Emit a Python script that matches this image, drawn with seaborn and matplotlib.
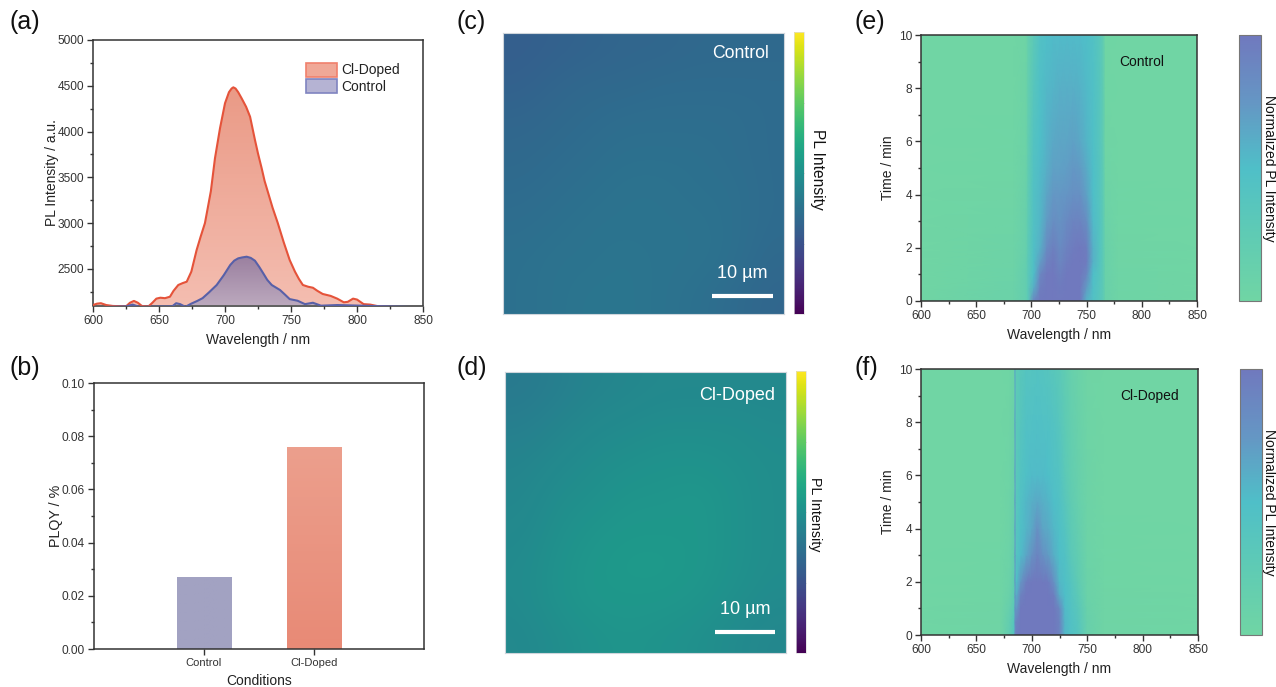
import numpy as np
import pandas as pd
import matplotlib
matplotlib.use('Agg')
import matplotlib.pyplot as plt
from matplotlib.colors import LinearSegmentedColormap, to_rgb
from matplotlib.cm import ScalarMappable
from matplotlib.patches import Patch
from matplotlib.ticker import MultipleLocator
import seaborn as sns

# (a) PL spectra
wl_doped = [600, 603, 606, 610, 615, 625, 628, 631, 634, 637, 642, 645, 648, 651, 654.5, 658.3, 661, 664.6, 668, 671,
            674.5, 678.5, 681.5, 684.8, 687, 689.3, 692.4, 696.2, 700, 703, 705, 706.3, 708, 710, 712.6, 716, 719, 722.7, 725, 727.8,
            730, 732.8, 736, 740, 744.5, 749, 753, 756, 759, 763, 766.6, 770, 774, 780, 785, 790, 793, 797, 800, 805,
            810, 815, 820, 850]
pl_doped = [2105, 2120, 2125, 2105, 2095, 2090, 2130, 2150, 2130, 2095, 2090, 2130, 2175, 2185, 2180, 2196, 2260, 2324, 2345, 2360,
            2470, 2706, 2850, 3000, 3170, 3350, 3708, 4035, 4309, 4430, 4470, 4483, 4470, 4430, 4363, 4270, 4162, 3908, 3760, 3598,
            3460, 3325, 3170, 3000, 2790, 2597, 2470, 2390, 2324, 2305, 2294, 2260, 2226, 2205, 2175, 2135, 2140, 2175, 2165, 2115,
            2110, 2095, 2085, 2080]
wl_control = [600, 625, 630, 635, 660, 663, 666, 670, 674.4, 679, 683, 688, 693.7, 699, 704, 707, 710, 713, 716.4, 719.5,
              722.7, 726, 729, 732, 735.4, 741.7, 745, 749, 755, 760.6, 766.6, 772.7, 785, 850]
pl_control = [2080, 2090, 2110, 2085, 2090, 2125, 2115, 2085, 2120, 2150, 2180, 2245, 2324, 2430, 2543, 2590, 2615, 2625, 2633, 2620,
              2589, 2520, 2451, 2380, 2324, 2269, 2225, 2170, 2152, 2115, 2130, 2098, 2105, 2080]

# (b) PLQY
conditions = ['Control', 'Cl-Doped']
plqy = [0.027, 0.076]

# (c)(d) PL maps, viridis fraction on a coarse grid (top row first)
map_control = [
    [0.30, 0.31, 0.32, 0.33, 0.33, 0.34, 0.34, 0.34],
    [0.31, 0.33, 0.34, 0.34, 0.35, 0.35, 0.35, 0.35],
    [0.33, 0.34, 0.35, 0.36, 0.36, 0.36, 0.36, 0.35],
    [0.34, 0.35, 0.36, 0.37, 0.37, 0.37, 0.36, 0.35],
    [0.35, 0.36, 0.37, 0.38, 0.38, 0.37, 0.37, 0.35],
    [0.36, 0.37, 0.38, 0.38, 0.38, 0.38, 0.37, 0.35],
    [0.37, 0.38, 0.38, 0.39, 0.38, 0.38, 0.37, 0.34],
    [0.37, 0.38, 0.39, 0.39, 0.38, 0.37, 0.35, 0.33],
]
map_doped = [
    [0.41, 0.43, 0.45, 0.46, 0.47, 0.47, 0.47, 0.47],
    [0.43, 0.45, 0.47, 0.48, 0.49, 0.49, 0.49, 0.48],
    [0.45, 0.47, 0.49, 0.50, 0.51, 0.51, 0.50, 0.49],
    [0.46, 0.49, 0.50, 0.52, 0.52, 0.53, 0.51, 0.49],
    [0.47, 0.50, 0.52, 0.53, 0.53, 0.53, 0.51, 0.49],
    [0.48, 0.51, 0.53, 0.54, 0.54, 0.53, 0.51, 0.49],
    [0.48, 0.51, 0.53, 0.53, 0.53, 0.52, 0.50, 0.48],
    [0.47, 0.49, 0.51, 0.52, 0.51, 0.50, 0.48, 0.46],
]

# (e)(f) time-resolved PL, normalized
time_min = [0, 0.5, 1, 1.5, 2, 3, 4, 5, 6, 8, 10]
wl_e = [600, 684, 695, 697, 702, 708, 714, 720, 726, 732, 738, 744, 750, 756, 762, 765, 767, 778, 850]
tr_control = [
    [0, 0.08, 0.18, 0.30, 0.88, 1.00, 1.00, 1.00, 1.00, 1.00, 1.00, 1.00, 0.58, 0.45, 0.35, 0.28, 0.10, 0.03, 0],
    [0, 0.08, 0.18, 0.30, 0.60, 0.95, 1.00, 1.00, 0.98, 1.00, 1.00, 1.00, 0.72, 0.47, 0.36, 0.28, 0.10, 0.03, 0],
    [0, 0.06, 0.18, 0.30, 0.50, 0.88, 1.00, 1.00, 0.94, 1.00, 1.00, 1.00, 0.88, 0.50, 0.38, 0.28, 0.10, 0.03, 0],
    [0, 0.05, 0.16, 0.30, 0.48, 0.70, 0.92, 0.98, 0.88, 0.96, 1.00, 1.00, 0.97, 0.58, 0.40, 0.28, 0.10, 0.02, 0],
    [0, 0.04, 0.14, 0.28, 0.47, 0.60, 0.84, 0.94, 0.84, 0.92, 0.97, 1.00, 0.95, 0.58, 0.40, 0.28, 0.10, 0.02, 0],
    [0, 0.03, 0.12, 0.26, 0.45, 0.55, 0.72, 0.82, 0.78, 0.85, 0.90, 0.90, 0.82, 0.52, 0.40, 0.28, 0.08, 0.01, 0],
    [0, 0.02, 0.10, 0.24, 0.45, 0.54, 0.66, 0.74, 0.74, 0.76, 0.80, 0.80, 0.68, 0.50, 0.38, 0.26, 0.05, 0.01, 0],
    [0, 0.01, 0.08, 0.22, 0.44, 0.52, 0.60, 0.68, 0.68, 0.70, 0.74, 0.72, 0.62, 0.50, 0.38, 0.26, 0.03, 0.00, 0],
    [0, 0.01, 0.06, 0.20, 0.42, 0.50, 0.58, 0.64, 0.66, 0.66, 0.68, 0.64, 0.56, 0.48, 0.36, 0.24, 0.02, 0.00, 0],
    [0, 0.00, 0.04, 0.18, 0.36, 0.48, 0.54, 0.57, 0.60, 0.60, 0.60, 0.58, 0.53, 0.47, 0.36, 0.24, 0.01, 0.00, 0],
    [0, 0.00, 0.03, 0.15, 0.30, 0.46, 0.50, 0.52, 0.52, 0.53, 0.52, 0.52, 0.50, 0.45, 0.34, 0.22, 0.01, 0.00, 0],
]
wl_f = [600, 672, 680, 684, 685, 686, 690, 695, 700, 705, 710, 715, 720, 725, 730, 735, 742, 750, 765, 850]
tr_doped = [
    [0, 0.02, 0.22, 0.40, 0.85, 0.95, 1.00, 1.00, 1.00, 1.00, 1.00, 1.00, 1.00, 0.92, 0.55, 0.46, 0.38, 0.12, 0.02, 0],
    [0, 0.02, 0.20, 0.38, 0.82, 0.90, 1.00, 1.00, 1.00, 1.00, 1.00, 1.00, 1.00, 0.92, 0.55, 0.46, 0.36, 0.12, 0.02, 0],
    [0, 0.02, 0.15, 0.30, 0.78, 0.72, 1.00, 1.00, 1.00, 1.00, 1.00, 1.00, 1.00, 0.88, 0.52, 0.44, 0.33, 0.10, 0.02, 0],
    [0, 0.01, 0.10, 0.25, 0.75, 0.60, 0.92, 1.00, 1.00, 1.00, 1.00, 1.00, 0.95, 0.62, 0.50, 0.42, 0.28, 0.08, 0.02, 0],
    [0, 0.01, 0.08, 0.22, 0.72, 0.48, 0.75, 0.95, 1.00, 1.00, 1.00, 0.97, 0.80, 0.54, 0.48, 0.40, 0.24, 0.08, 0.01, 0],
    [0, 0.01, 0.06, 0.18, 0.72, 0.40, 0.52, 0.65, 0.78, 0.90, 0.80, 0.72, 0.60, 0.50, 0.45, 0.32, 0.20, 0.06, 0.01, 0],
    [0, 0.00, 0.05, 0.15, 0.70, 0.36, 0.48, 0.56, 0.64, 0.80, 0.66, 0.62, 0.54, 0.48, 0.40, 0.28, 0.17, 0.05, 0.01, 0],
    [0, 0.00, 0.04, 0.12, 0.70, 0.34, 0.46, 0.55, 0.60, 0.64, 0.60, 0.56, 0.50, 0.45, 0.35, 0.24, 0.14, 0.05, 0.00, 0],
    [0, 0.00, 0.03, 0.10, 0.68, 0.32, 0.42, 0.48, 0.52, 0.52, 0.52, 0.50, 0.46, 0.42, 0.30, 0.20, 0.12, 0.04, 0.00, 0],
    [0, 0.00, 0.02, 0.08, 0.66, 0.30, 0.38, 0.45, 0.46, 0.47, 0.46, 0.45, 0.42, 0.36, 0.26, 0.18, 0.10, 0.03, 0.00, 0],
    [0, 0.00, 0.01, 0.06, 0.62, 0.25, 0.34, 0.40, 0.40, 0.42, 0.40, 0.38, 0.34, 0.30, 0.22, 0.14, 0.08, 0.02, 0.00, 0],
]

sns.set_theme(style='ticks')
plt.rcParams['font.family'] = ['Liberation Sans', 'DejaVu Sans']
plt.rcParams['axes.edgecolor'] = '#333333'
plt.rcParams['xtick.color'] = '#333333'
plt.rcParams['ytick.color'] = '#333333'
plt.rcParams['text.color'] = '#222222'
plt.rcParams['axes.labelcolor'] = '#222222'

W, H = 1276, 687
fig = plt.figure(figsize=(W / 100, H / 100), dpi=100)
tr_cmap = LinearSegmentedColormap.from_list('tr', ['#70D5A4', '#5FCBB4', '#4FBFC8', '#6596C4', '#7079BE'])


def px_ax(x0, y0, x1, y1):
    return fig.add_axes([x0 / W, 1 - y1 / H, (x1 - x0) / W, (y1 - y0) / H])


def letter(s, x, y):
    fig.text(x / W, 1 - y / H, s, fontsize=18, ha='left', va='center', color='#111111')


def style_ax(ax, lw=1.1):
    for s in ax.spines.values():
        s.set_linewidth(lw)
        s.set_visible(True)
    ax.tick_params(which='major', direction='out', length=4, width=1, labelsize=8.6, pad=2.5)
    ax.tick_params(which='minor', direction='out', length=2, width=1)


def gradient(ax, clip, top, bottom, ext):
    # vertical colour ramp clipped to a patch or a filled area
    ramp = np.linspace(to_rgb(top), to_rgb(bottom), 64)[:, None, :]
    im = ax.imshow(ramp, extent=ext, aspect='auto', zorder=clip.get_zorder() + 0.1)
    if hasattr(clip, 'get_paths'):
        im.set_clip_path(clip.get_paths()[0], ax.transData)
    else:
        im.set_clip_path(clip)
    return im


# (a)
ax = px_ax(93, 40, 423, 305.5)
df_d = pd.DataFrame({'wl': wl_doped, 'pl': pl_doped})
df_c = pd.DataFrame({'wl': wl_control, 'pl': pl_control})
p = ax.fill_between(df_d.wl, df_d.pl, 2000, color='none', lw=0)
gradient(ax, p, '#EA9A86', '#F4BDB0', (600, 850, 2100, 4500))
p = ax.fill_between(df_c.wl, df_c.pl, 2000, color='none', lw=0)
gradient(ax, p, '#9A7F9F', '#BBA8BD', (600, 850, 2100, 2640)).set_zorder(3)
sns.lineplot(data=df_d, x='wl', y='pl', color='#E5533A', lw=1.5, ax=ax, zorder=4)
sns.lineplot(data=df_c, x='wl', y='pl', color='#5860A8', lw=1.5, ax=ax, zorder=5)
ax.set_xlim(600, 850)
ax.set_ylim(2100, 5000)
ax.set_yticks([2500, 3000, 3500, 4000, 4500, 5000])
ax.xaxis.set_major_locator(MultipleLocator(50))
ax.xaxis.set_minor_locator(MultipleLocator(25))
ax.yaxis.set_minor_locator(MultipleLocator(250))
style_ax(ax)
ax.set_xlabel('Wavelength / nm', fontsize=10, labelpad=5)
ax.set_ylabel('PL Intensity / a.u.', fontsize=10, labelpad=-1)
ax.legend(handles=[Patch(fc='#F0A897', ec='#F0806C', lw=1.2, label='Cl-Doped'),
                   Patch(fc='#B5B3D3', ec='#7F84C0', lw=1.2, label='Control')],
          loc='upper left', bbox_to_anchor=(0.644, 0.915), frameon=False, fontsize=10,
          handlelength=2.3, handleheight=1.2, labelspacing=0.12, handletextpad=0.25, borderpad=0, borderaxespad=0)
letter('(a)', 10, 22)

# (b)
ax = px_ax(94, 383, 424, 649)
sns.barplot(x=conditions, y=plqy, hue=conditions, palette=['#A2A2C2', '#EA9480'], width=0.5,
            saturation=1, legend=False, ax=ax)
ax.set_xlim(-1, 2)
ax.set_ylim(0, 0.10)
ax.set_yticks([0, 0.02, 0.04, 0.06, 0.08, 0.10])
ax.set_yticklabels(['0.00', '0.02', '0.04', '0.06', '0.08', '0.10'])
ax.yaxis.set_minor_locator(MultipleLocator(0.01))
style_ax(ax)
for bar, top, bottom in zip(ax.patches, ['#A2A2C2', '#EC9F8D'], ['#A2A2C2', '#E88A76']):
    b = bar.get_bbox()
    gradient(ax, bar, top, bottom, (b.x0, b.x1, b.y0, b.y1))
ax.set_xlim(-1, 2)
ax.set_ylim(0, 0.10)
ax.tick_params(axis='x', labelsize=8)
ax.set_xlabel('Conditions', fontsize=10, labelpad=4)
ax.set_ylabel('PLQY / %', fontsize=10.3, labelpad=-1)
letter('(b)', 10, 368)


# (c)(d)
def pl_map(table, box, cbar_box, name, name_xy, name_fs, bar_x, bar_y, txt_xy, lab_xy, lab_fs):
    ax = px_ax(*box)
    ax.imshow(table, cmap='viridis', vmin=0, vmax=1, interpolation='bicubic', aspect='auto',
              extent=(box[0], box[2], box[3], box[1]))
    ax.set_xticks([])
    ax.set_yticks([])
    for s in ax.spines.values():
        s.set_color('#CFD6DC')
        s.set_linewidth(0.8)
    ax.text(name_xy[0], name_xy[1], name, color='white', fontsize=name_fs, ha='right', va='center')
    ax.plot(bar_x, bar_y, color='white', lw=3, solid_capstyle='butt')
    ax.text(txt_xy[0], txt_xy[1], '10 µm', color='white', fontsize=13, ha='center', va='center')
    ax.set_xlim(box[0], box[2])
    ax.set_ylim(box[3], box[1])
    cax = px_ax(*cbar_box)
    cb = fig.colorbar(ScalarMappable(cmap='viridis'), cax=cax)
    cb.outline.set_edgecolor('#DDDDDD')
    cb.outline.set_linewidth(0.5)
    cb.set_ticks([0.25, 0.5, 0.75])
    cb.ax.tick_params(direction='in', length=1.5, width=0.5, color='#555555', labelright=False)
    fig.text(lab_xy[0] / W, 1 - lab_xy[1] / H, 'PL Intensity', rotation=270,
             fontsize=lab_fs, ha='center', va='center', color='#111111')


pl_map(map_control, (503, 33, 784, 314), (794, 32, 804, 314), 'Control', (769, 54), 12.7,
       (712, 773), (296, 296), (742, 273), (817, 169), 11.2)
letter('(c)', 457, 22)
pl_map(map_doped, (505, 372, 786, 653), (796, 371, 806, 653), 'Cl-Doped', (775, 395), 13,
       (715, 775), (632, 632), (745, 609), (815, 514), 10.3)
letter('(d)', 457, 368)


# (e)(f)
def tr_map(wl, table, box, cbar_box, name, name_y, lab_x):
    ax = px_ax(*box)
    ax.pcolormesh(wl, time_min, np.array(table), shading='gouraud', cmap=tr_cmap, vmin=0, vmax=1, rasterized=True)
    ax.set_xlim(600, 850)
    ax.set_ylim(0, 10)
    ax.xaxis.set_major_locator(MultipleLocator(50))
    ax.xaxis.set_minor_locator(MultipleLocator(25))
    ax.yaxis.set_major_locator(MultipleLocator(2))
    ax.yaxis.set_minor_locator(MultipleLocator(1))
    style_ax(ax)
    ax.set_xlabel('Wavelength / nm', fontsize=10, labelpad=4.5)
    ax.set_ylabel('Time / min', fontsize=10, labelpad=3)
    ax.text(780, name_y, name, color='#111111', fontsize=10, va='center')
    cax = px_ax(*cbar_box)
    cb = fig.colorbar(ScalarMappable(cmap=tr_cmap), cax=cax)
    cb.set_ticks([])
    cb.outline.set_edgecolor('#777777')
    cb.outline.set_linewidth(0.8)
    fig.text(lab_x / W, 1 - (cbar_box[1] + cbar_box[3]) / 2 / H, 'Normalized PL Intensity', rotation=270,
             fontsize=10, ha='center', va='center', color='#111111')


tr_map(wl_e, tr_control, (921, 35, 1197, 301), (1239, 35, 1261, 301), 'Control', 8.98, 1269)
letter('(e)', 855, 22)
tr_map(wl_f, tr_doped, (921, 369, 1198, 635), (1240, 369, 1262, 635), 'Cl-Doped', 8.98, 1269)
letter('(f)', 855, 368)

fig.savefig('out.png', dpi=100)
